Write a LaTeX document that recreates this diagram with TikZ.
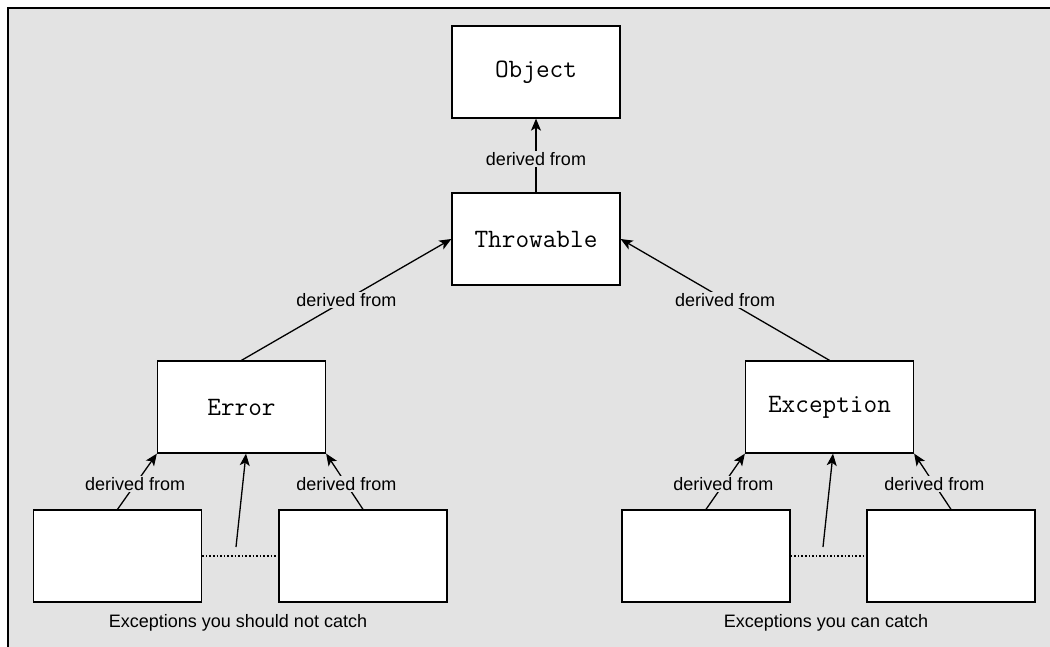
\documentclass[tikz,border=0pt]{standalone}
\usepackage{fontspec}
\setmainfont{Liberation Sans}
\usetikzlibrary{arrows.meta}
\definecolor{bg}{HTML}{E3E3E3}
\begin{document}
\begin{tikzpicture}[x=1pt,y=-1pt,
 box/.style={draw=black,fill=white,line width=1.3pt,minimum width=168pt,minimum height=92pt,inner sep=0pt,font=\ttfamily\fontsize{26.5}{28}\selectfont},
 arr/.style={line width=1.3pt,-{Stealth[length=12pt,width=10pt,inset=3pt]}},
 lbl/.style={fill=bg,inner sep=1.5pt,font=\fontsize{18}{20}\selectfont},
 captext/.style={font=\fontsize{18}{20}\selectfont},
 dots/.style={line width=1.3pt,dash pattern=on 1.6pt off 2pt}]
\useasboundingbox (0,0) rectangle (1050,647);
\fill[bg] (8,8) rectangle (1050,647);
\draw[line width=1.3pt] (8,647) -- (8,8) -- (1050,8);

\node[box] (object) at (536,72) {Object};
\node[box] (throwable) at (536,239) {Throwable};
\node[box] (error) at (241.5,407) {Error};
\node[box] (exception) at (829.5,407) {Exception};
\node[box] (e1) at (117.5,556) {};
\node[box] (e2) at (363,556) {};
\node[box] (x1) at (706,556) {};
\node[box] (x2) at (951,556) {};

\draw[arr] (throwable.north) -- node[lbl,pos=0.45]{derived from} (object.south);
\draw[arr] (error.north) -- node[lbl]{derived from} (throwable.west);
\draw[arr] (exception.north) -- node[lbl]{derived from} (throwable.east);

\draw[arr] (e1.north) -- node[lbl,pos=0.45]{derived from} (error.south west);
\draw[arr] (e2.north) -- node[lbl,pos=0.45]{derived from} (error.south east);
\coordinate (em) at (236,547);
\draw[arr] (em) -- ([xshift=4.5pt]error.south);
\draw[dots] (e1.east) -- (e2.west);

\draw[arr] (x1.north) -- node[lbl,pos=0.45]{derived from} (exception.south west);
\draw[arr] (x2.north) -- node[lbl,pos=0.45]{derived from} (exception.south east);
\coordinate (xm) at (823,547);
\draw[arr] (xm) -- ([xshift=3.5pt]exception.south);
\draw[dots] (x1.east) -- (x2.west);

\node[captext] (cap1) at (238,623) {Exceptions you should not catch};
\node[captext] (cap2) at (826,623) {Exceptions you can catch};
\end{tikzpicture}
\end{document}
